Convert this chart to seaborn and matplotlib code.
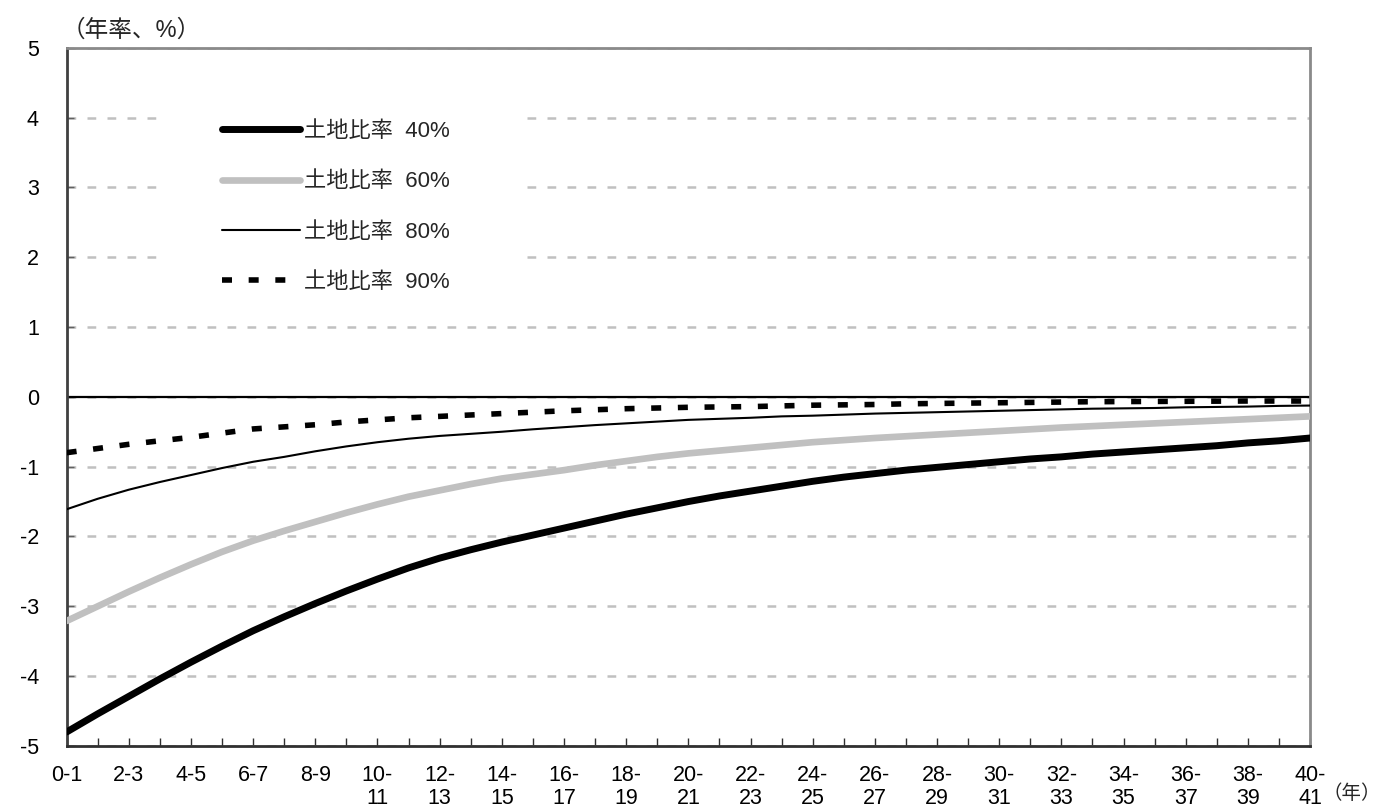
import matplotlib
matplotlib.use("Agg")
import matplotlib.pyplot as plt
import seaborn as sns
import pandas as pd
from matplotlib.patches import Rectangle
from matplotlib.lines import Line2D

# ---- data -------------------------------------------------------------
years = list(range(41))
tick_labels = ["0-1", "", "2-3", "", "4-5", "", "6-7", "", "8-9", "",
               "10-\n11", "", "12-\n13", "", "14-\n15", "", "16-\n17", "", "18-\n19", "",
               "20-\n21", "", "22-\n23", "", "24-\n25", "", "26-\n27", "", "28-\n29", "",
               "30-\n31", "", "32-\n33", "", "34-\n35", "", "36-\n37", "", "38-\n39", "",
               "40-\n41"]

land40 = [-4.80, -4.54, -4.29, -4.04, -3.80, -3.57, -3.35, -3.15, -2.96, -2.78,
          -2.61, -2.45, -2.31, -2.19, -2.08, -1.98, -1.88, -1.78, -1.68, -1.59,
          -1.50, -1.42, -1.35, -1.28, -1.21, -1.15, -1.10, -1.05, -1.01, -0.97,
          -0.93, -0.89, -0.86, -0.82, -0.79, -0.76, -0.73, -0.70, -0.66, -0.63,
          -0.59]
land60 = [-3.21, -3.00, -2.79, -2.59, -2.40, -2.22, -2.06, -1.92, -1.79, -1.66,
          -1.54, -1.43, -1.34, -1.25, -1.17, -1.11, -1.05, -0.98, -0.92, -0.86,
          -0.81, -0.77, -0.73, -0.69, -0.65, -0.62, -0.59, -0.565, -0.54, -0.515,
          -0.49, -0.465, -0.44, -0.42, -0.40, -0.38, -0.36, -0.34, -0.32, -0.30,
          -0.28]
land80 = [-1.61, -1.46, -1.33, -1.22, -1.12, -1.02, -0.93, -0.86, -0.78, -0.71,
          -0.65, -0.60, -0.56, -0.53, -0.50, -0.465, -0.435, -0.405, -0.38, -0.355,
          -0.33, -0.315, -0.30, -0.28, -0.27, -0.255, -0.24, -0.23, -0.22, -0.21,
          -0.20, -0.19, -0.18, -0.17, -0.165, -0.16, -0.15, -0.145, -0.14, -0.13,
          -0.125]
land90 = [-0.80, -0.74, -0.68, -0.63, -0.58, -0.52, -0.46, -0.43, -0.40, -0.36,
          -0.33, -0.30, -0.28, -0.26, -0.24, -0.22, -0.20, -0.185, -0.17, -0.16,
          -0.15, -0.145, -0.14, -0.13, -0.12, -0.115, -0.11, -0.10, -0.095, -0.09,
          -0.085, -0.08, -0.075, -0.07, -0.068, -0.066, -0.064, -0.062, -0.06, -0.06,
          -0.06]

series_labels = ["土地比率  40%", "土地比率  60%", "土地比率  80%", "土地比率  90%"]
y_ticks = [5, 4, 3, 2, 1, 0, -1, -2, -3, -4, -5]

# ---- style ------------------------------------------------------------
sns.set_theme(style="white")
plt.rcParams['font.family'] = ['Liberation Sans', 'Noto Sans CJK JP']
plt.rcParams['axes.axisbelow'] = True

fig = plt.figure(figsize=(13.8, 8.11), dpi=100)
ax = fig.add_axes([0.0483, 0.0802, 0.9010, 0.8610])

styles = [
    dict(color="black", lw=5.0, ls="-"),
    dict(color="#c0c0c0", lw=4.8, ls="-"),
    dict(color="black", lw=1.5, ls="-"),
    dict(color="black", lw=4.0, ls=(0, (1.8, 3.0))),
]
for vals, st in zip([land40, land60, land80, land90], styles):
    sns.lineplot(x=years, y=vals, ax=ax, color=st["color"], lw=st["lw"],
                 linestyle=st["ls"], zorder=3, legend=False)

# grid
ax.set_ylim(-5, 5)
ax.set_xlim(0, 40)
ax.set_yticks(y_ticks)
ax.set_yticklabels([str(v) for v in y_ticks])
ax.yaxis.grid(True, color="#c0c0c0", lw=1.8, linestyle=(0, (3.5, 4.5)), zorder=0.5)
ax.xaxis.grid(False)
ax.axhline(0, color="black", lw=1.6, zorder=2.5)

ax.set_xticks(years)
ax.set_xticklabels(tick_labels, linespacing=1.1)

ax.tick_params(axis="x", direction="in", length=6, width=1.0, color="#303030",
               pad=14, labelsize=15.5, labelcolor="black")
ax.tick_params(axis="y", direction="in", length=5, width=1.0, color="#606060",
               pad=20, labelsize=15.5, labelcolor="black")
ax.tick_params(top=False, right=False, bottom=True, left=True)

for side in ["top", "right"]:
    ax.spines[side].set_color("#8a8a8a")
    ax.spines[side].set_linewidth(2.0)
ax.spines["left"].set_color("#404040")
ax.spines["left"].set_linewidth(2.0)
ax.spines["bottom"].set_color("#303030")
ax.spines["bottom"].set_linewidth(2.0)

# legend background (covers grid like the original)
ax.add_patch(Rectangle((0.079, 0.64), 0.29, 0.285, transform=ax.transAxes,
                       facecolor="white", edgecolor="none", zorder=1))

handles = [Line2D([], [], color=st["color"], lw=st["lw"], linestyle=st["ls"],
                  solid_capstyle="round") for st in styles]
ax.legend(handles, series_labels, loc="upper left", bbox_to_anchor=(0.125, 0.895),
          frameon=False, fontsize=16, handlelength=3.5, handletextpad=0.2,
          labelspacing=1.32, borderpad=0, borderaxespad=0)

fig.text(62 / 1380, 1 - 19 / 811, "（年率、%）", ha="left", va="top", fontsize=17)
fig.text(1323 / 1380, 1 - 794 / 811, "（年）", ha="left", va="center", fontsize=14)

fig.savefig("out.png", dpi=100)
